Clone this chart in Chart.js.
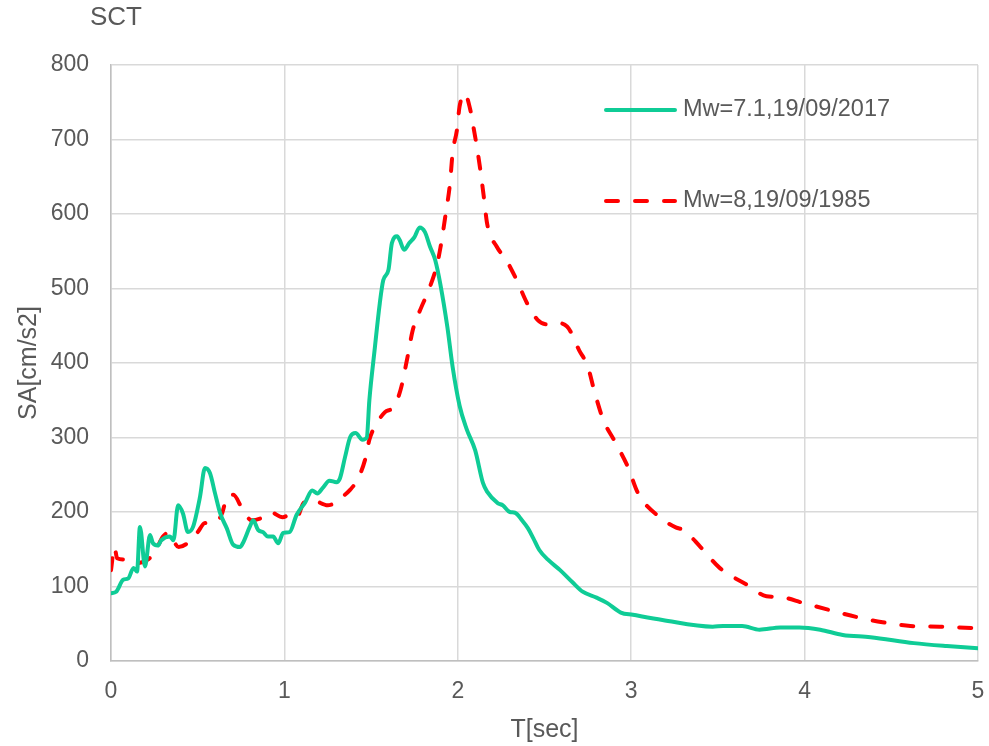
<!DOCTYPE html>
<html>
<head>
<meta charset="utf-8">
<script src="https://cdn.jsdelivr.net/npm/chart.js@4.4.1/dist/chart.umd.min.js"></script>
<style>
  html, body { margin: 0; padding: 0; background: #fff; }
  #wrap { width: 989px; height: 746px; }
</style>
</head>
<body>
<div id="wrap"><canvas id="chart"></canvas></div>
<script>
// SCT spectral acceleration
const chartTitle = 'SCT';
const xTitle = 'T[sec]';
const yTitle = 'SA[cm/s2]';

const label2017 = 'Mw=7.1,19/09/2017';
const period2017 = [0, 0.03, 0.07, 0.1, 0.13, 0.15, 0.167, 0.196, 0.225, 0.242, 0.27, 0.29, 0.34, 0.36, 0.387, 0.415,
  0.444, 0.473, 0.513, 0.542, 0.571, 0.6, 0.63, 0.668, 0.705, 0.744, 0.76, 0.8, 0.82, 0.848, 0.877, 0.905, 0.935,
  0.964, 0.993, 1.03, 1.07, 1.12, 1.16, 1.19, 1.22, 1.26, 1.3, 1.32, 1.35, 1.38, 1.41, 1.45, 1.475, 1.49, 1.52, 1.55,
  1.57, 1.6, 1.62, 1.65, 1.665, 1.69, 1.72, 1.75, 1.78, 1.81, 1.84, 1.87, 1.9, 1.94, 1.97, 2.01, 2.05, 2.1, 2.145,
  2.17, 2.23, 2.26, 2.3, 2.33, 2.37, 2.405, 2.435, 2.47, 2.52, 2.59, 2.66, 2.72, 2.8, 2.86, 2.94, 3.01, 3.18, 3.47,
  3.53, 3.64, 3.74, 3.86, 3.97, 4.09, 4.22, 4.38, 4.63, 4.82, 5];
const sa2017 = [91, 93, 109, 111, 125, 120, 180, 127, 169, 158, 155, 162, 167, 162, 209, 198,
  173, 180, 220, 259, 252, 225, 198, 178, 156, 153, 158, 180, 189, 176, 173, 167, 167,
  158, 172, 173, 196, 213, 229, 225, 232, 242, 240, 245, 274, 301, 306, 297, 300, 350, 417, 480,
  511, 525, 561, 570, 565, 552, 561, 569, 582, 576, 556, 538, 505, 448, 395, 343, 312, 283, 239,
  227, 212, 209, 200, 199, 189, 178, 165, 149, 136, 122, 106, 93, 85, 78, 65, 62, 55, 46,
  47, 47, 42, 45, 45, 42, 35, 32, 24, 20, 17];

const label1985 = 'Mw=8,19/09/1985';
const period1985 = [0, 0.02, 0.035, 0.09, 0.13, 0.21, 0.25, 0.3, 0.33, 0.39, 0.44, 0.5, 0.54, 0.61, 0.64, 0.675,
  0.705, 0.76, 0.81, 0.877, 0.917, 0.99, 1.03, 1.07, 1.11, 1.16, 1.25, 1.29, 1.31, 1.38, 1.42, 1.465, 1.49, 1.52,
  1.58, 1.63, 1.67, 1.71, 1.74, 1.79, 1.82, 1.86, 1.88, 1.9, 1.93, 1.955, 1.97, 1.995, 2.01, 2.04, 2.07, 2.09, 2.11,
  2.13, 2.15, 2.17, 2.225, 2.28, 2.34, 2.4, 2.46, 2.51, 2.56, 2.63, 2.7, 2.75, 2.79, 2.84, 2.9, 2.98, 3.04, 3.17,
  3.26, 3.3, 3.4, 3.51, 3.67, 3.78, 3.86, 3.99, 4.15, 4.3, 4.45, 4.61, 4.78, 5];
const sa1985 = [122, 153, 138, 136, 131, 136, 145, 167, 172, 153, 158, 173, 185, 187, 198, 223,
  223, 203, 189, 193, 200, 193, 196, 192, 212, 216, 209, 212, 216, 230, 243, 270, 297, 314,
  334, 341, 364, 408, 444, 475, 491, 516, 532, 555, 600, 641, 682, 713, 744, 762, 742, 717, 690,
  659, 623, 586, 556, 538, 511, 480, 458, 452, 454, 449, 417, 395, 360, 323, 297, 261, 225, 192,
  179, 176, 153, 125, 102, 87, 86, 78, 68, 59, 52, 47, 46, 44];

const xTicks = [0, 1, 2, 3, 4, 5];
const yTicks = [0, 100, 200, 300, 400, 500, 600, 700, 800];

const toPoints = (xs, ys) => xs.map((x, i) => ({ x: x, y: ys[i] }));

const textColor = '#595959';
const fontFamily = '"Liberation Sans", Arial, sans-serif';

// title at top-left and the legend inside the plot, Excel style
const excelDecor = {
  id: 'excelDecor',
  afterDraw(chart) {
    const ctx = chart.ctx;
    const area = chart.chartArea;
    ctx.save();
    ctx.fillStyle = textColor;
    ctx.font = '26px ' + fontFamily;
    ctx.textAlign = 'left';
    ctx.textBaseline = 'middle';
    ctx.fillText(chartTitle, 90, 18);

    const rows = [110, 201];
    chart.data.datasets.forEach((ds, i) => {
      const y = rows[i];
      const x0 = area.right - 372;
      ctx.beginPath();
      ctx.strokeStyle = ds.borderColor;
      ctx.lineWidth = ds.borderWidth;
      ctx.lineCap = 'round';
      ctx.setLineDash(ds.borderDash || []);
      ctx.moveTo(x0, y);
      ctx.lineTo(x0 + 69, y);
      ctx.stroke();
      ctx.setLineDash([]);
      ctx.font = '23.5px ' + fontFamily;
      ctx.fillStyle = textColor;
      ctx.fillText(ds.label, x0 + 77, y);
    });
    ctx.restore();
  }
};

new Chart(document.getElementById('chart'), {
  type: 'line',
  data: {
    datasets: [
      {
        label: label2017,
        data: toPoints(period2017, sa2017),
        borderColor: '#0fcc96',
        borderWidth: 4,
        pointRadius: 0,
        cubicInterpolationMode: 'monotone',
        borderCapStyle: 'round',
        borderJoinStyle: 'round',
        fill: false
      },
      {
        label: label1985,
        data: toPoints(period1985, sa1985),
        borderColor: '#ff0000',
        borderWidth: 4,
        borderDash: [12, 17],
        pointRadius: 0,
        cubicInterpolationMode: 'monotone',
        borderCapStyle: 'round',
        borderJoinStyle: 'round',
        fill: false
      }
    ]
  },
  options: {
    responsive: true,
    maintainAspectRatio: false,
    animation: false,
    layout: { padding: { top: 65, right: 11, left: 0, bottom: 0 } },
    plugins: {
      legend: { display: false },
      title: { display: false },
      tooltip: { enabled: false }
    },
    scales: {
      x: {
        type: 'linear',
        min: 0,
        max: 5,
        afterFit: (s) => { s.height = 85; s.paddingLeft = 0; s.paddingRight = 0; },
        afterBuildTicks: (s) => { s.ticks = xTicks.map(v => ({ value: v })); },
        grid: { color: '#d9d9d9', lineWidth: 1.5, drawTicks: false },
        border: { color: '#bfbfbf', width: 1.5 },
        ticks: { color: textColor, font: { family: fontFamily, size: 23 }, padding: 17, maxRotation: 0 },
        title: { display: true, text: xTitle, color: textColor, font: { family: fontFamily, size: 25 }, padding: { top: 4, bottom: 1 } }
      },
      y: {
        type: 'linear',
        min: 0,
        max: 800,
        afterFit: (s) => { s.width = 111; s.paddingTop = 0; s.paddingBottom = 0; },
        afterBuildTicks: (s) => { s.ticks = yTicks.map(v => ({ value: v })); },
        grid: { color: '#d9d9d9', lineWidth: 1.5, drawTicks: false },
        border: { color: '#bfbfbf', width: 1.5 },
        ticks: { color: textColor, font: { family: fontFamily, size: 23 }, padding: 22 },
        title: { display: true, text: yTitle, color: textColor, font: { family: fontFamily, size: 25 }, padding: { top: 14, bottom: 0 } }
      }
    }
  },
  plugins: [excelDecor]
});
</script>
</body>
</html>
